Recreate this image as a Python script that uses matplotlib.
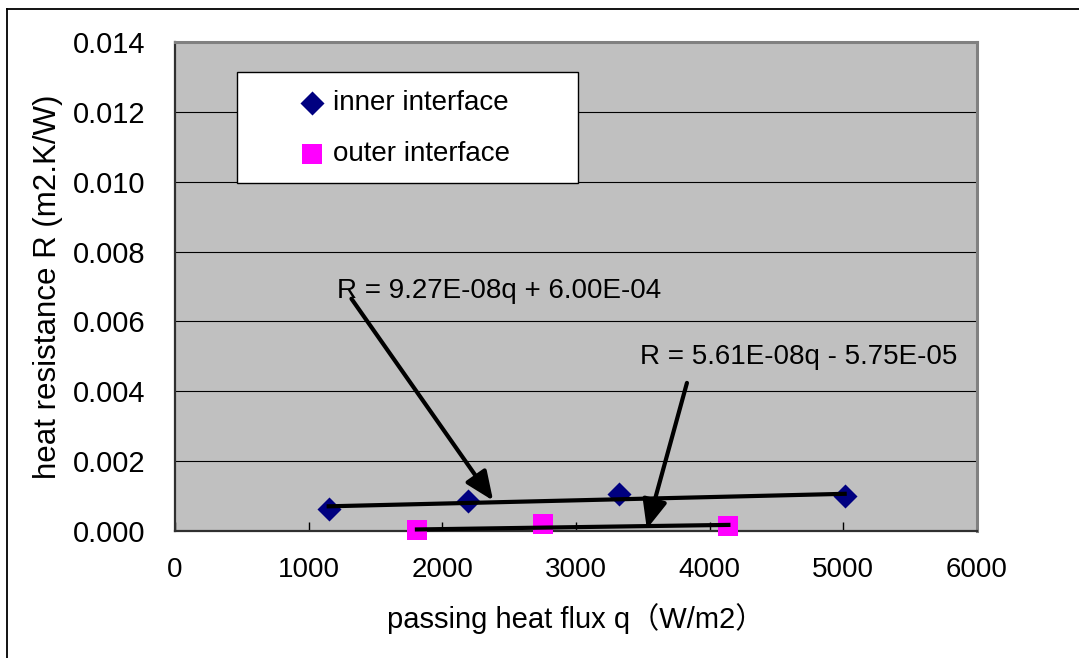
import numpy as np
import matplotlib.pyplot as plt
from matplotlib.lines import Line2D
from matplotlib.patches import Rectangle

# values
inner_q = [1150, 2190, 3320, 5010]
inner_R = [0.00062, 0.00086, 0.00105, 0.00099]
outer_q = [1810, 2750, 4140]
outer_R = [0.00002, 0.00019, 0.00014]

# trend lines as written in the chart: slope, intercept
inner_fit = [9.27e-08, 6.00e-04]
outer_fit = [5.61e-08, -5.75e-05]
inner_eq = "R = 9.27E-08q + 6.00E-04"
outer_eq = "R = 5.61E-08q - 5.75E-05"

x_ticks = [0, 1000, 2000, 3000, 4000, 5000, 6000]
y_ticks = [0.000, 0.002, 0.004, 0.006, 0.008, 0.010, 0.012, 0.014]

plt.rcParams['font.family'] = ['Liberation Sans', 'Noto Sans CJK JP', 'DejaVu Sans']

fig = plt.figure(figsize=(10.79, 6.58), dpi=100)
ax = fig.add_axes([175/1079, 1-531/658, (977-175)/1079, (531-42)/658])
ax.set_facecolor('#C0C0C0')

ax.scatter(inner_q, inner_R, marker='D', s=150, color='#000080', linewidths=0,
           zorder=3, clip_on=False, label='inner interface')
ax.scatter(outer_q, outer_R, marker='s', s=190, color='#FF00FF', linewidths=0,
           zorder=3, clip_on=False, label='outer interface')

# trend lines over the data range
for q, fit in [(inner_q, inner_fit), (outer_q, outer_fit)]:
    qq = np.array([min(q), max(q)])
    ax.plot(qq, np.polyval(fit, qq), color='black', lw=3, zorder=4, clip_on=False)

# equation labels with arrows
arrow_style = dict(arrowstyle='-|>,head_length=0.7,head_width=0.3', color='black',
                   lw=3, mutation_scale=25, shrinkA=0, shrinkB=0)
ax.annotate('', xy=(2380, 0.00087), xytext=(1320, 0.00665), arrowprops=arrow_style, zorder=5)
ax.annotate('', xy=(3530, 0.00006), xytext=(3830, 0.00424), arrowprops=arrow_style, zorder=5)
ax.text(1215, 0.00687, inner_eq, fontsize=20, va='center', ha='left', zorder=6)
ax.text(3480, 0.00498, outer_eq, fontsize=20, va='center', ha='left', zorder=6)

ax.set_xlim(0, 6000)
ax.set_ylim(0, 0.014)
ax.set_xticks(x_ticks)
ax.set_yticks(y_ticks)
ax.set_yticklabels([f"{v:.3f}" for v in y_ticks], fontsize=21)
ax.set_xticklabels([str(v) for v in x_ticks], fontsize=20)
ax.tick_params(axis='y', length=0, pad=21)
ax.tick_params(axis='x', direction='in', length=6.5, width=1, color='black', pad=19)
ax.grid(axis='y', color='black', lw=0.8)
ax.set_axisbelow(True)

for side in ['top', 'right']:
    ax.spines[side].set_color('#808080')
    ax.spines[side].set_linewidth(2.2)
for side in ['left', 'bottom']:
    ax.spines[side].set_color('#303030')
    ax.spines[side].set_linewidth(1.6)

ax.set_xlabel('passing heat flux q（W/m2）', fontsize=21, labelpad=14)
ax.set_ylabel('heat resistance R (m2.K/W)', fontsize=22.5, labelpad=7)

# legend box
ax.add_patch(Rectangle((62/802, (531-183)/489), 341/802, 111/489, transform=ax.transAxes,
                       facecolor='white', edgecolor='black', lw=1, zorder=6))
leg = ax.legend(loc='upper left', bbox_to_anchor=((298-175)/802, (531-90)/489),
                frameon=False, fontsize=20, handlelength=1.0, handletextpad=0.25,
                borderpad=0, borderaxespad=0, labelspacing=0.9)
leg.set_zorder(7)

# outer chart frame (left and top edges visible)
fig.add_artist(Line2D([7/1079, 7/1079], [0, 1-9/658], color='black', lw=1.3))
fig.add_artist(Line2D([7/1079, 1], [1-9/658, 1-9/658], color='black', lw=1.3))

fig.savefig('out.png', dpi=100)
